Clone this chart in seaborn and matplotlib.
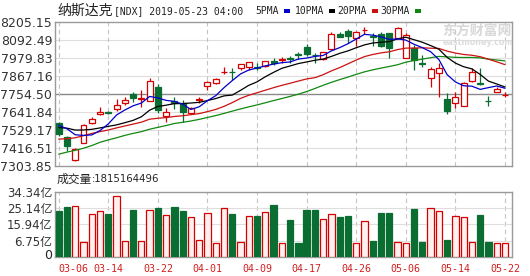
import numpy as np
import pandas as pd
import matplotlib
matplotlib.use("Agg")
import matplotlib.pyplot as plt
from matplotlib.patches import Rectangle
import seaborn as sns

# ---------------- data ----------------
dates = ["03-06", "03-07", "03-08", "03-11", "03-12", "03-13", "03-14", "03-15", "03-18", "03-19",
         "03-20", "03-21", "03-22", "03-25", "03-26", "03-27", "03-28", "03-29", "04-01", "04-02",
         "04-03", "04-04", "04-05", "04-08", "04-09", "04-10", "04-11", "04-12", "04-15", "04-16",
         "04-17", "04-18", "04-22", "04-23", "04-24", "04-25", "04-26", "04-29", "04-30", "05-01",
         "05-02", "05-03", "05-06", "05-07", "05-08", "05-09", "05-10", "05-13", "05-14", "05-15",
         "05-16", "05-17", "05-20", "05-21", "05-22"]

open_ = [7573.9, 7485.7, 7339.1, 7444.2, 7573.9, 7626.7, 7643.1, 7660.1, 7696.0, 7752.6,
         7721.1, 7710.4, 7796.7, 7617.9, 7710.4, 7696.0, 7634.9, 7716.7, 7804.9, 7825.6,
         7891.7, 7894.9, 7916.3, 7926.3, 7924.4, 7932.6, 7964.1, 7969.8, 7981.1, 8006.3,
         8052.2, 8002.5, 7972.9, 8035.8, 8132.1, 8151.0, 8108.9, 8154.8, 8117.0, 8132.1,
         8136.5, 8105.1, 7983.0, 8045.9, 7949.6, 7857.1, 7884.8, 7723.0, 7696.0, 7679.0,
         7836.3, 7826.3, 7713.0, 7769.0, 7746.3]
close = [7502.7, 7427.2, 7406.4, 7557.5, 7595.3, 7639.3, 7633.0, 7685.3, 7716.7, 7727.4,
         7727.4, 7838.2, 7653.8, 7639.3, 7696.0, 7643.1, 7666.4, 7723.0, 7831.9, 7847.0,
         7896.1, 7889.9, 7941.4, 7954.0, 7920.7, 7964.1, 7947.7, 7972.9, 7977.3, 8002.5,
         8004.4, 7998.1, 8017.0, 8132.1, 8115.1, 8119.6, 8146.6, 8158.6, 8113.3, 8056.6,
         8042.1, 8168.0, 8125.8, 7968.5, 7945.8, 7911.9, 7916.3, 7647.5, 7737.5, 7821.8,
         7894.9, 7820.0, 7708.6, 7784.1, 7750.1]
high = [7580.2, 7490.1, 7412.7, 7565.7, 7607.8, 7674.6, 7649.4, 7721.1, 7733.7, 7765.2,
        7779.7, 7853.3, 7817.4, 7664.5, 7733.7, 7716.7, 7672.7, 7735.6, 7836.3, 7852.1,
        7926.3, 7916.3, 7943.3, 7955.9, 7947.7, 7965.3, 7979.2, 7989.3, 7993.7, 8020.7,
        8069.2, 8010.7, 8018.8, 8146.6, 8146.6, 8161.7, 8147.9, 8178.1, 8140.3, 8146.6,
        8140.3, 8174.3, 8136.5, 8062.9, 8000.0, 7926.3, 7947.7, 7758.9, 7769.0, 7828.1,
        7916.3, 7916.3, 7741.9, 7800.4, 7769.0]
low = [7490.1, 7397.6, 7334.7, 7444.2, 7565.7, 7622.3, 7626.7, 7649.4, 7685.3, 7702.3,
       7674.6, 7710.4, 7636.8, 7580.2, 7658.2, 7580.2, 7628.6, 7697.9, 7779.7, 7817.4,
       7878.5, 7842.6, 7905.6, 7905.6, 7905.6, 7926.3, 7937.0, 7951.5, 7947.7, 7972.9,
       7993.7, 7951.5, 7968.5, 8035.8, 8111.4, 8077.4, 8056.6, 8132.1, 8056.6, 8052.2,
       7979.2, 8100.7, 7983.0, 7905.6, 7926.3, 7800.4, 7735.6, 7626.7, 7668.3, 7679.0,
       7828.1, 7811.1, 7680.9, 7769.0, 7737.5]

ma5 = [7557.6, 7535.4, 7497.9, 7494.0, 7496.9, 7524.4, 7566.3, 7622.4, 7653.7, 7680.3,
       7697.4, 7739.0, 7729.8, 7714.4, 7707.9, 7690.8, 7656.9, 7674.2, 7712.5, 7743.9,
       7794.3, 7838.9, 7880.7, 7905.7, 7917.9, 7931.6, 7942.7, 7951.8, 7956.2, 7974.4,
       7980.8, 7990.9, 7997.1, 8026.1, 8046.5, 8071.0, 8100.6, 8130.0, 8124.9, 8114.4,
       8098.0, 8101.5, 8093.8, 8067.5, 8046.2, 8021.0, 7971.6, 7876.3, 7830.5, 7806.2,
       7803.7, 7783.6, 7794.7, 7804.9, 7790.7]
ma10 = [7543.3, 7539.5, 7527.6, 7527.9, 7532.1, 7541.0, 7550.8, 7560.1, 7573.8, 7588.6,
        7610.9, 7652.7, 7676.1, 7684.1, 7694.1, 7694.1, 7697.9, 7702.0, 7713.5, 7725.9,
        7742.6, 7747.9, 7777.5, 7809.1, 7830.9, 7863.0, 7890.8, 7916.3, 7931.0, 7946.1,
        7956.2, 7966.8, 7974.5, 7991.2, 8010.4, 8025.9, 8045.8, 8063.6, 8075.5, 8080.4,
        8084.5, 8101.1, 8111.9, 8096.2, 8080.3, 8059.5, 8036.6, 7985.1, 7949.0, 7926.2,
        7912.4, 7877.6, 7835.5, 7817.7, 7798.5]
ma20 = [7470.7, 7473.0, 7479.0, 7492.0, 7506.1, 7517.6, 7528.1, 7541.2, 7553.3, 7565.1,
        7577.1, 7596.1, 7601.8, 7606.0, 7613.1, 7617.5, 7624.4, 7631.1, 7643.6, 7657.3,
        7676.7, 7700.3, 7726.8, 7746.6, 7762.5, 7778.5, 7794.4, 7809.1, 7822.2, 7836.0,
        7849.4, 7857.3, 7876.0, 7900.1, 7920.7, 7944.4, 7968.3, 7989.9, 8003.2, 8013.3,
        8020.3, 8034.0, 8043.2, 8043.7, 8045.4, 8042.7, 8041.2, 8024.3, 8012.2, 8003.3,
        7998.4, 7989.3, 7973.7, 7956.9, 7939.4]
ma30 = [7375.7, 7388.9, 7400.0, 7413.1, 7430.0, 7450.5, 7465.4, 7478.9, 7494.0, 7506.5,
        7517.4, 7532.9, 7544.7, 7556.0, 7568.8, 7576.4, 7584.7, 7594.8, 7606.7, 7618.7,
        7632.3, 7646.7, 7660.4, 7673.7, 7685.7, 7699.4, 7713.2, 7726.1, 7739.4, 7753.5,
        7769.9, 7789.1, 7809.3, 7828.1, 7845.1, 7861.0, 7878.2, 7893.9, 7906.6, 7917.5,
        7927.8, 7938.6, 7954.6, 7965.5, 7973.9, 7982.8, 7991.0, 7988.3, 7985.2, 7984.3,
        7984.4, 7981.8, 7974.0, 7968.4, 7963.1]

# volume in 亿 (100 million)
volume = [23.7, 26.0, 26.4, 6.1, 21.8, 23.5, 21.8, 32.1, 6.5, 24.1,
          6.5, 24.1, 25.2, 21.3, 26.0, 23.5, 20.0, 7.1, 22.4, 5.5,
          25.1, 21.8, 6.1, 20.7, 20.7, 22.8, 27.0, 5.5, 18.4, 5.5,
          24.1, 24.1, 18.8, 21.8, 20.3, 20.7, 5.5, 17.9, 6.7, 22.6,
          22.6, 6.1, 5.5, 24.7, 6.1, 25.1, 23.5, 7.1, 20.7, 20.0,
          6.1, 21.3, 6.1, 5.5, 5.5]

price_ticks = ["8205.15", "8092.49", "7979.83", "7867.16", "7754.50",
               "7641.84", "7529.17", "7416.51", "7303.85"]
vol_ticks = ["34.34", "25.14", "15.94", "6.75"]
vol_zero_label = "0"
title_name = "纳斯达克"
title_code = "[NDX] 2019-05-23 04:00"
ma_names = ["5PMA", "10PMA", "20PMA", "30PMA"]
vol_title = "成交量"
vol_value = ":1815164496"

# ---------------- style ----------------
sns.set_theme(style="white")
plt.rcParams["font.family"] = ["DejaVu Sans", "Noto Sans CJK SC"]

RED = "#d40000"
GREEN = "#0a6e32"
MA_COLORS = ["#0000cc", "#000000", "#cc1111", "#118811"]
SPINE = "#9a9a9a"
GRID = "#dedede"
VGRID = "#c4c4c4"

W, H = 530, 276
fig = plt.figure(figsize=(W / 100, H / 100), dpi=100)
fig.patch.set_facecolor("white")


def rect(l, t, r, b):
    return [l / W, 1 - b / H, (r - l) / W, (b - t) / H]


def fx(px):
    return px / W


def fy(py):
    return 1 - py / H


ax = fig.add_axes(rect(55, 22.4, 512, 165.6))
axv = fig.add_axes(rect(55, 192, 512, 256.7))

x = np.arange(len(dates))
o = np.array(open_); c = np.array(close); h = np.array(high); l = np.array(low)
up = c >= o
dn = ~up

pvals = [float(t) for t in price_ticks]
ax.set_xlim(-0.45, len(dates) - 0.15)
ax.set_ylim(min(pvals) - 0.01, max(pvals) + 0.01)
ax.set_yticks(pvals)
ax.set_yticklabels(price_ticks)
ax.set_xticks([])
for v, lab in zip(pvals, price_ticks):
    if v in (min(pvals), max(pvals)):
        continue
    mid = lab == "7754.50"
    ax.axhline(v, color="#8a8a8a" if mid else GRID, lw=1.0 if mid else 0.8, zorder=1)

grid_idx = list(range(0, len(dates), 6))
for gi in grid_idx:
    ax.axvline(gi, color=VGRID, lw=0.8, ls=(0, (4, 3)), zorder=1)
    axv.axvline(gi, color=VGRID, lw=0.8, ls=(0, (4, 3)), zorder=1)

bw = 0.72
ax.vlines(x[up], l[up], h[up], color=RED, lw=0.9, zorder=2)
ax.vlines(x[dn], l[dn], h[dn], color=GREEN, lw=0.9, zorder=2)
ax.bar(x[up], c[up] - o[up], bottom=o[up], width=bw, facecolor="white",
       edgecolor=RED, linewidth=0.9, zorder=3)
ax.bar(x[dn], c[dn] - o[dn], bottom=o[dn], width=bw, facecolor=GREEN,
       edgecolor=GREEN, linewidth=0.9, zorder=3)

ma_df = pd.DataFrame({"x": x, "ma5": ma5, "ma10": ma10, "ma20": ma20, "ma30": ma30})
for col, colr in zip(["ma30", "ma20", "ma10", "ma5"], MA_COLORS[::-1]):
    sns.lineplot(data=ma_df, x="x", y=col, ax=ax, color=colr, linewidth=0.9, zorder=4)
ax.set_xlabel(""); ax.set_ylabel("")

# ---- volume ----
vtop = float(vol_ticks[0])
vstep = (float(vol_ticks[0]) - float(vol_ticks[-1])) / 3
vfloor = vtop - 4 * vstep
axv.set_xlim(ax.get_xlim())
axv.set_ylim(vfloor, vtop + 0.01)
vt_vals = [float(t) for t in vol_ticks]
vt_labs = [t + "亿" for t in vol_ticks]
axv.set_yticks(vt_vals)
axv.set_yticklabels(vt_labs)
for v in vt_vals[1:]:
    axv.axhline(v, color=GRID, lw=0.8, zorder=1)
vol = np.array(volume)
axv.bar(x[up], vol[up] - vfloor, bottom=vfloor, width=0.76, facecolor="#fff0f0",
        edgecolor=RED, linewidth=0.9, zorder=3)
axv.bar(x[dn], vol[dn] - vfloor, bottom=vfloor, width=0.76, facecolor=GREEN,
        edgecolor=GREEN, linewidth=0.9, zorder=3)
axv.set_xticks(grid_idx)
axv.set_xticklabels([dates[i] for i in grid_idx])
for tl in axv.get_xticklabels():
    tl.set_family("DejaVu Sans Mono")
    tl.set_fontsize(7.2)
    tl.set_color("#d02020")
axv.get_xticklabels()[0].set_ha("left")

for a in (ax, axv):
    for s in a.spines.values():
        s.set_color(SPINE)
        s.set_linewidth(1.0)
    a.tick_params(axis="both", length=0, pad=2)
    a.grid(False)
for tl in ax.get_yticklabels():
    tl.set_fontsize(9)
    tl.set_color("#333333")
for tl in axv.get_yticklabels():
    tl.set_fontsize(8.5)
    tl.set_color("#333333")
axv.tick_params(axis="x", pad=5)

# bottom "0" label of the volume scale
fig.text(fx(52.5), fy(255.5), vol_zero_label, ha="right", va="center",
         fontsize=9, color="#222222", family="DejaVu Sans", zorder=10)

# ---- header texts ----
fig.text(fx(57), fy(11), title_name, family="Noto Sans CJK SC", fontsize=10,
         va="center", ha="left", color="#222222")
fig.text(fx(114), fy(11), title_code, family="DejaVu Sans Mono", fontsize=7.0,
         va="center", ha="left", color="#222222")
leg_x = [255, 295, 337, 380]
dash_x = [284, 329, 372, 415]
for name, tx, dx, colr in zip(ma_names, leg_x, dash_x, MA_COLORS):
    fig.text(fx(tx), fy(11), name, family="DejaVu Sans Mono", fontsize=7.0,
             va="center", ha="left", color="#222222")
    fig.patches.append(Rectangle((fx(dx), fy(12.5)), 6 / W, 3 / H,
                                 transform=fig.transFigure, facecolor=colr,
                                 edgecolor="none"))

fig.text(fx(57), fy(179), vol_title, family="Noto Sans CJK SC", fontsize=8.5,
         va="center", ha="left", color="#222222")
fig.text(fx(92), fy(179), vol_value, family="DejaVu Sans", fontsize=7.3,
         va="center", ha="left", color="#222222")

# watermark
fig.text(fx(442), fy(31), "东方财富网", family="Noto Sans CJK SC", fontsize=10,
         fontweight="bold", va="center", ha="left", color="#d8d8d8", zorder=0)
fig.text(fx(443), fy(42.5), "eastmoney.com", family="DejaVu Sans", fontsize=5.8,
         fontweight="bold", va="center", ha="left", color="#dcdcdc", zorder=0)

fig.savefig("out.png", dpi=100, facecolor="white")
